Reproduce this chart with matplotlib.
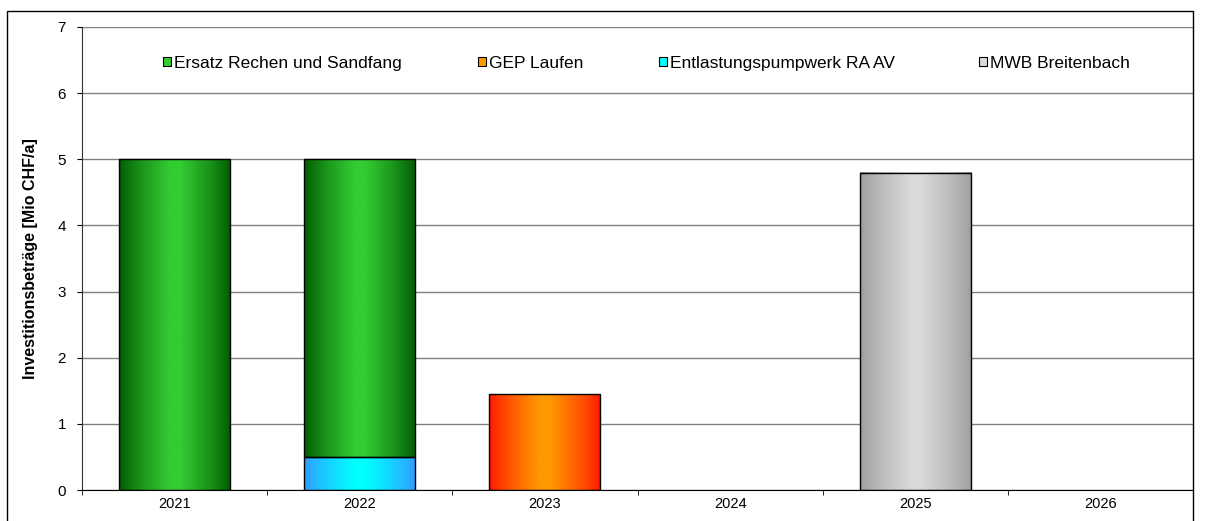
import numpy as np
import matplotlib.pyplot as plt
from matplotlib.colors import to_rgb
from matplotlib.patches import Patch, Rectangle
from matplotlib.legend import Legend

plt.rcParams['font.family'] = ['Liberation Sans', 'DejaVu Sans']

# Daten
jahre = ['2021', '2022', '2023', '2024', '2025', '2026']
ersatz_rechen = [5.0, 4.5, 0, 0, 0, 0]
gep_laufen = [0, 0, 1.45, 0, 0, 0]
entlastung = [0, 0.5, 0, 0, 0, 0]
mwb_breitenbach = [0, 0, 0, 0, 4.8, 0]

namen = ['Ersatz Rechen und Sandfang', 'GEP Laufen',
         'Entlastungspumpwerk RA AV', 'MWB Breitenbach']
werte = {
    'Ersatz Rechen und Sandfang': ersatz_rechen,
    'GEP Laufen': gep_laufen,
    'Entlastungspumpwerk RA AV': entlastung,
    'MWB Breitenbach': mwb_breitenbach,
}
# Reihenfolge im Stapel (unten -> oben)
stapel = ['Entlastungspumpwerk RA AV', 'Ersatz Rechen und Sandfang',
          'GEP Laufen', 'MWB Breitenbach']

# Farbverlauf: (Rand, Mitte)
farben = {
    'Ersatz Rechen und Sandfang': ('#005800', '#33cc33'),
    'GEP Laufen': ('#ff1400', '#ff9900'),
    'Entlastungspumpwerk RA AV': ('#3399ff', '#00ffff'),
    'MWB Breitenbach': ('#9c9c9c', '#dadada'),
}


def verlauf(rand, mitte, n=200):
    t = np.linspace(0, 1, n)
    s = 1 - np.abs(2 * t - 1)       # 0 am Rand, 1 in der Mitte
    s = np.clip(s * 1.1, 0, 1) ** 0.8
    a = np.array(to_rgb(rand))
    b = np.array(to_rgb(mitte))
    img = a[None, :] * (1 - s[:, None]) + b[None, :] * s[:, None]
    return img[None, :, :]


fig = plt.figure(figsize=(12.06, 5.21), dpi=100)
ax = fig.add_axes([82 / 1206, 31 / 521, 1111 / 1206, 463 / 521])

x = np.arange(len(jahre))
unten = np.zeros(len(jahre))
for name in stapel:
    v = np.array(werte[name], dtype=float)
    bars = ax.bar(x, v, 0.6, bottom=unten, facecolor='none',
                  edgecolor='black', linewidth=1, zorder=3)
    for rect in bars:
        h = rect.get_height()
        if h <= 0:
            rect.set_visible(False)
            continue
        bx, by = rect.get_xy()
        w = rect.get_width()
        ax.imshow(verlauf(*farben[name]), extent=[bx, bx + w, by, by + h],
                  aspect='auto', interpolation='bilinear', zorder=2)
    unten += v

ax.set_xlim(-0.5, len(jahre) - 0.5)
ax.set_ylim(0, 7)
ax.set_yticks(range(0, 8))
ax.set_xticks(x)
ax.set_xticklabels(jahre)
ax.set_xticks(np.arange(-0.5, len(jahre), 1), minor=True)
ax.tick_params(axis='x', which='major', length=0, labelsize=10.5, pad=5)
ax.tick_params(axis='x', which='minor', length=3.6, direction='out', color='black')
ax.tick_params(axis='y', length=3.6, direction='out', labelsize=11, pad=8, color='black')

ax.yaxis.grid(True, color='#808080', linewidth=1)
ax.set_axisbelow(True)
ax.spines['top'].set_visible(False)
ax.spines['right'].set_visible(False)
ax.spines['left'].set_color('#333333')
ax.spines['bottom'].set_color('black')

ax.set_ylabel('Investitionsbeträge [Mio CHF/a]', fontsize=11.5, fontweight='bold')
ax.yaxis.set_label_coords(-(82 - 38) / 1111, 0.5)

# Legende: einzelne Eintraege
legende_x = [(163 - 82) / 1111, (478 - 82) / 1111, (659 - 82) / 1111, (979 - 82) / 1111]
for name, lx in zip(namen, legende_x):
    handle = Patch(facecolor=farben[name][1], edgecolor='black', linewidth=0.8)
    leg = Legend(ax, [handle], [name], loc='center left', bbox_to_anchor=(lx, 0.922),
                 frameon=False, fontsize=12.5, borderpad=0, borderaxespad=0,
                 handlelength=0.45, handleheight=0.45, handletextpad=0.2)
    ax.add_artist(leg)

# Rahmen um das Diagramm
fig.add_artist(Rectangle((7 / 1206, -0.05), (1193 - 7) / 1206, 1 - 11 / 521 + 0.05,
                         transform=fig.transFigure, fill=False,
                         edgecolor='black', linewidth=1))

fig.savefig('out.png', dpi=100)
